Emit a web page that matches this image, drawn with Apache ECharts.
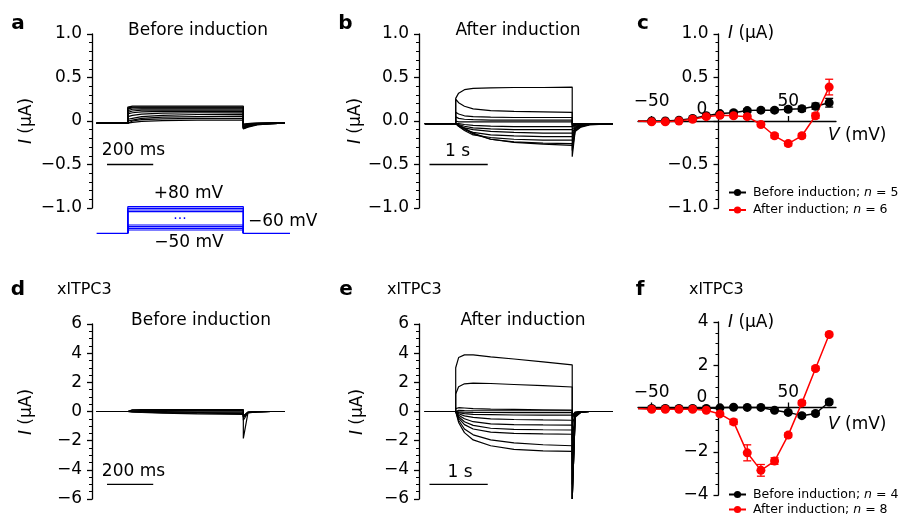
<!DOCTYPE html>
<html>
<head>
<meta charset="utf-8">
<script src="https://cdn.jsdelivr.net/npm/echarts@6/dist/echarts.min.js"></script>
<style>html,body{margin:0;background:#fff}#chart{width:898px;height:519px}</style>
</head>
<body>
<div id="chart"></div>
<script>
// ---- data ----
// time base for panels a and d (ms, pulse 0..500)
var timeA = [-135, 0, 0, 20, 60, 150, 300, 500, 500, 520, 560, 620, 680];
var tracesA = [
  [-0.025,-0.025,0.16,0.17,0.17,0.17,0.17,0.17,-0.09,-0.07,-0.045,-0.03,-0.025],
  [-0.025,-0.025,0.15,0.16,0.16,0.16,0.16,0.16,-0.09,-0.065,-0.04,-0.03,-0.025],
  [-0.025,-0.025,0.14,0.15,0.15,0.15,0.15,0.15,-0.085,-0.06,-0.04,-0.03,-0.025],
  [-0.025,-0.025,0.12,0.135,0.14,0.14,0.14,0.14,-0.08,-0.055,-0.035,-0.03,-0.025],
  [-0.025,-0.025,0.1,0.115,0.125,0.125,0.125,0.125,-0.08,-0.05,-0.035,-0.03,-0.025],
  [-0.025,-0.025,0.08,0.095,0.105,0.11,0.11,0.11,-0.075,-0.05,-0.03,-0.025,-0.025],
  [-0.025,-0.025,0.05,0.065,0.08,0.09,0.095,0.095,-0.07,-0.045,-0.03,-0.025,-0.025],
  [-0.025,-0.025,0.02,0.03,0.05,0.065,0.075,0.08,-0.06,-0.04,-0.03,-0.025,-0.025],
  [-0.025,-0.025,0.0,0.01,0.03,0.045,0.05,0.055,-0.05,-0.035,-0.03,-0.025,-0.025],
  [-0.025,-0.025,-0.01,0.0,0.015,0.025,0.03,0.03,-0.04,-0.03,-0.025,-0.025,-0.025],
  [-0.025,-0.025,-0.02,-0.015,-0.005,0.005,0.01,0.01,-0.035,-0.03,-0.025,-0.025,-0.025]
];
var tracesD = [
  [0,0,0.1,0.12,0.13,0.13,0.13,0.13,-1.85,-0.1,-0.02,0,0],
  [0,0,0.07,0.09,0.1,0.1,0.1,0.1,-0.6,-0.08,-0.02,0,0],
  [0,0,0.03,0.05,0.06,0.06,0.06,0.06,-0.4,-0.06,-0.01,0,0],
  [0,0,0,0,0,-0.01,-0.02,-0.03,-0.3,-0.05,-0.01,0,0],
  [0,0,0,-0.01,-0.03,-0.05,-0.07,-0.09,-0.3,-0.05,-0.01,0,0],
  [0,0,0,-0.02,-0.05,-0.08,-0.12,-0.15,-0.35,-0.05,-0.01,0,0],
  [0,0,0,-0.03,-0.07,-0.11,-0.16,-0.2,-0.4,-0.06,-0.01,0,0]
];
// time base for panels b and e (s, pulse 0..2)
var timeB = [-0.53, 0, 0, 0.05, 0.15, 0.3, 0.6, 1.0, 1.5, 2.0, 2.0, 2.05, 2.15, 2.3, 2.7];
var tracesB = [
  [-0.03,-0.03,0.26,0.32,0.36,0.375,0.38,0.385,0.385,0.39,-0.03,-0.03,-0.03,-0.03,-0.03],
  [-0.03,-0.03,0.25,0.21,0.17,0.14,0.12,0.11,0.105,0.1,-0.04,-0.035,-0.03,-0.03,-0.03],
  [-0.03,-0.03,0.1,0.08,0.06,0.05,0.045,0.04,0.04,0.04,-0.05,-0.04,-0.035,-0.03,-0.03],
  [-0.03,-0.03,0.05,0.03,0.02,0.015,0.01,0.01,0.01,0.01,-0.06,-0.045,-0.035,-0.03,-0.03],
  [-0.03,-0.03,0,-0.01,-0.01,-0.01,-0.01,-0.01,-0.01,-0.01,-0.07,-0.05,-0.04,-0.03,-0.03],
  [-0.03,-0.03,-0.02,-0.03,-0.04,-0.05,-0.06,-0.065,-0.065,-0.065,-0.1,-0.06,-0.045,-0.035,-0.03],
  [-0.03,-0.03,-0.02,-0.04,-0.06,-0.08,-0.09,-0.1,-0.1,-0.1,-0.14,-0.07,-0.05,-0.035,-0.03],
  [-0.03,-0.03,-0.02,-0.05,-0.08,-0.1,-0.12,-0.13,-0.14,-0.14,-0.18,-0.08,-0.05,-0.04,-0.03],
  [-0.03,-0.03,-0.03,-0.06,-0.1,-0.13,-0.16,-0.17,-0.18,-0.18,-0.22,-0.09,-0.055,-0.04,-0.03],
  [-0.03,-0.03,-0.03,-0.06,-0.11,-0.16,-0.19,-0.21,-0.22,-0.22,-0.28,-0.1,-0.06,-0.04,-0.03],
  [-0.03,-0.03,-0.03,-0.05,-0.09,-0.15,-0.21,-0.24,-0.255,-0.26,-0.34,-0.11,-0.065,-0.04,-0.03],
  [-0.03,-0.03,-0.03,-0.05,-0.08,-0.14,-0.21,-0.245,-0.265,-0.28,-0.41,-0.12,-0.07,-0.045,-0.03]
];
var tracesE = [
  [0,0,3.0,3.7,3.88,3.88,3.75,3.6,3.4,3.2,-0.3,-0.05,0,0,0],
  [0,0,1.2,1.7,1.9,1.95,1.92,1.85,1.77,1.68,-0.3,-0.05,0,0,0],
  [0,0,0.2,0.26,0.24,0.2,0.16,0.14,0.12,0.1,-0.5,-0.05,0,0,0],
  [0,0,0.1,0.08,0.06,0.05,0.05,0.05,0.05,0.05,-1,-0.1,0,0,0],
  [0,0,0,-0.03,-0.05,-0.06,-0.07,-0.08,-0.08,-0.08,-2,-0.1,-0.02,0,0],
  [0,0,0,-0.08,-0.15,-0.2,-0.22,-0.24,-0.25,-0.25,-3,-0.15,-0.02,0,0],
  [0,0,0,-0.15,-0.3,-0.4,-0.5,-0.55,-0.58,-0.6,-4,-0.2,-0.03,0,0],
  [0,0,0,-0.25,-0.5,-0.7,-0.85,-0.9,-0.92,-0.93,-5,-0.25,-0.03,0,0],
  [0,0,0,-0.35,-0.7,-0.95,-1.15,-1.22,-1.25,-1.27,-6,-0.3,-0.04,0,0],
  [0,0,0,-0.45,-0.9,-1.2,-1.42,-1.5,-1.54,-1.56,-6,-0.3,-0.04,0,0],
  [0,0,0,-0.6,-1.2,-1.6,-1.95,-2.15,-2.28,-2.35,-6,-0.35,-0.05,0,0],
  [0,0,0,-0.75,-1.45,-1.95,-2.35,-2.6,-2.7,-2.74,-6,-0.4,-0.05,0,0]
];
// voltage protocol (schematic rows, baseline = 0)
var protocolSteps = [16, 15, 14, 13, 5, 4, 3, 2];
// scale bars
var scaleBarMs = [-90, 110];
var scaleBarS = [-0.45, 0.55];

// I-V data
var voltages = [-60, -50, -40, -30, -20, -10, 0, 10, 20, 30, 40, 50, 60, 70, 80];
var cBefore = [0, 0, 0, 0.01, 0.03, 0.06, 0.085, 0.095, 0.12, 0.125, 0.125, 0.135, 0.14, 0.17, 0.21];
var cBeforeErr = [0, 0.01, 0.01, 0.01, 0.01, 0.015, 0.015, 0.02, 0.02, 0.02, 0.02, 0.025, 0.03, 0.035, 0.05];
var cAfter = [0, -0.01, -0.01, 0, 0.02, 0.05, 0.065, 0.06, 0.05, -0.04, -0.17, -0.26, -0.17, 0.06, 0.39];
var cAfterErr = [0, 0.015, 0.015, 0.015, 0.015, 0.02, 0.02, 0.02, 0.02, 0.02, 0.025, 0.025, 0.025, 0.03, 0.09];
var fBefore = [0, 0, 0, 0, 0, 0, 0.03, 0.06, 0.05, 0.05, -0.08, -0.18, -0.33, -0.23, 0.3];
var fBeforeErr = [0, 0.05, 0.05, 0.05, 0.05, 0.05, 0.05, 0.05, 0.05, 0.05, 0.05, 0.06, 0.08, 0.08, 0.1];
var fAfter = [0, -0.04, -0.04, -0.04, -0.04, -0.08, -0.25, -0.62, -2.05, -2.86, -2.43, -1.23, 0.26, 1.85, 3.42];
var fAfterErr = [0, 0.05, 0.05, 0.05, 0.05, 0.06, 0.08, 0.12, 0.37, 0.27, 0.15, 0.1, 0.1, 0.08, 0.08];

var FONT = 'DejaVu Sans';
var RED = '#ff0000';
var BLUE = '#0000ff';

function minus(s) { return String(s).replace('-', '\u2212'); }

var chart = echarts.init(document.getElementById('chart'));

// grids: 0 a, 1 b, 2 c, 3 d, 4 e, 5 f, 6 protocol
var grids = [
  {left: 92, top: 34, width: 198, height: 174},
  {left: 419, top: 34, width: 194, height: 174},
  {left: 638, top: 34, width: 198, height: 174},
  {left: 92, top: 324, width: 198, height: 175},
  {left: 419, top: 324, width: 194, height: 175},
  {left: 638, top: 322, width: 198, height: 173},
  {left: 92, top: 200, width: 198, height: 40}
];

function hiddenX(gi, min, max) {
  return {type: 'value', gridIndex: gi, min: min, max: max, show: false};
}
function hiddenY(gi, min, max) {
  return {type: 'value', gridIndex: gi, min: min, max: max, show: false};
}
function currentAxis(gi, min, max, interval, minorSplit, fmt, offset) {
  return {
    type: 'value', gridIndex: gi, min: min, max: max, interval: interval, offset: offset || 0,
    axisLine: {show: true, onZero: false, lineStyle: {color: '#000', width: 1.3}},
    axisTick: {show: true, length: 5, lineStyle: {color: '#000', width: 1.3}},
    minorTick: {show: true, splitNumber: minorSplit, length: 3, lineStyle: {color: '#000', width: 1}},
    splitLine: {show: false},
    minorSplitLine: {show: false},
    axisLabel: {color: '#000', fontFamily: FONT, fontSize: 17, margin: 10, formatter: fmt}
  };
}
// voltage axis sits on I = 0; offset lifts it from the grid bottom
function voltAxis(gi, offset, labelMargin) {
  return {
    type: 'value', gridIndex: gi, min: -60, max: 85, offset: offset,
    axisLine: {show: true, onZero: false, lineStyle: {color: '#000', width: 1.3}},
    axisTick: {show: true, inside: true, length: 5, customValues: [-50, 50], lineStyle: {color: '#000', width: 1.3}},
    splitLine: {show: false},
    axisLabel: {inside: true, margin: labelMargin, customValues: [-50, 50], color: '#000',
      fontFamily: FONT, fontSize: 17, formatter: function (v) { return minus(v); }}
  };
}

var xAxes = [
  hiddenX(0, -155, 702),
  hiddenX(1, -0.63, 2.7),
  voltAxis(2, -87, 11),
  hiddenX(3, -155, 702),
  hiddenX(4, -0.63, 2.7),
  voltAxis(5, -87.5, 6),
  hiddenX(6, -155, 702)
];
var yAxes = [
  currentAxis(0, -1, 1, 0.5, 5, function (v) { return v === 0 ? '0' : minus(v.toFixed(1)); }),
  currentAxis(1, -1, 1, 0.5, 5, function (v) { return minus(v.toFixed(1)); }),
  currentAxis(2, -1, 1, 0.5, 5, function (v) { return v === 0 ? '' : minus(v.toFixed(1)); }, -80.5),
  currentAxis(3, -6, 6, 2, 4, function (v) { return minus(v); }),
  currentAxis(4, -6, 6, 2, 4, function (v) { return minus(v); }),
  currentAxis(5, -4, 4, 2, 4, function (v) { return v === 0 ? '' : minus(v); }, -80.5),
  hiddenY(6, -4, 20)
];

var series = [];

function addTraces(times, traces, gi) {
  traces.forEach(function (vals) {
    series.push({
      type: 'line', xAxisIndex: gi, yAxisIndex: gi, symbol: 'none', silent: true,
      data: times.map(function (t, i) { return [t, vals[i]]; }),
      lineStyle: {color: '#000', width: 1.2}
    });
  });
}
addTraces(timeA, tracesA, 0);
addTraces(timeB, tracesB, 1);
addTraces(timeA, tracesD, 3);
addTraces(timeB, tracesE, 4);

// scale bars
[[0, scaleBarMs, -0.5], [1, scaleBarS, -0.5], [3, scaleBarMs, -5], [4, scaleBarS, -5]].forEach(function (s) {
  series.push({
    type: 'line', xAxisIndex: s[0], yAxisIndex: s[0], symbol: 'none', silent: true,
    data: [[s[1][0], s[2]], [s[1][1], s[2]]],
    lineStyle: {color: '#000', width: 1.3}
  });
});

// voltage protocol
series.push({
  type: 'line', xAxisIndex: 6, yAxisIndex: 6, symbol: 'none', silent: true,
  data: [[-135, 0], [0, 0], [null, null], [500, 0], [702, 0]],
  connectNulls: false, lineStyle: {color: BLUE, width: 1.4}
});
protocolSteps.forEach(function (lv) {
  series.push({
    type: 'line', xAxisIndex: 6, yAxisIndex: 6, symbol: 'none', silent: true,
    data: [[0, 0], [0, lv], [500, lv], [500, 0]],
    lineStyle: {color: BLUE, width: 1.2}
  });
});

function errorBars(gi, vals, errs, color) {
  return {
    type: 'custom', xAxisIndex: gi, yAxisIndex: gi, silent: true,
    data: voltages.map(function (v, i) { return [v, vals[i] - errs[i], vals[i] + errs[i]]; }),
    renderItem: function (params, api) {
      if (api.value(1) === api.value(2)) return null;
      var lo = api.coord([api.value(0), api.value(1)]);
      var hi = api.coord([api.value(0), api.value(2)]);
      var st = {stroke: color, lineWidth: 1.3};
      return {type: 'group', children: [
        {type: 'line', shape: {x1: lo[0], y1: lo[1], x2: hi[0], y2: hi[1]}, style: st},
        {type: 'line', shape: {x1: lo[0] - 4, y1: lo[1], x2: lo[0] + 4, y2: lo[1]}, style: st},
        {type: 'line', shape: {x1: hi[0] - 4, y1: hi[1], x2: hi[0] + 4, y2: hi[1]}, style: st}
      ]};
    }
  };
}
function ivLine(gi, name, vals, color) {
  return {
    type: 'line', name: name, xAxisIndex: gi, yAxisIndex: gi,
    symbol: 'circle', showAllSymbol: true,
    symbolSize: function (val, p) { return p.dataIndex === 0 ? 0 : 9; },
    data: voltages.map(function (v, i) { return [v, vals[i]]; }),
    lineStyle: {color: color, width: 1.5}, itemStyle: {color: color}
  };
}
series.push(errorBars(2, cBefore, cBeforeErr, '#000'));
series.push(ivLine(2, 'Before induction; n = 5', cBefore, '#000'));
series.push(errorBars(2, cAfter, cAfterErr, RED));
series.push(ivLine(2, 'After induction; n = 6', cAfter, RED));
series.push(errorBars(5, fBefore, fBeforeErr, '#000'));
series.push(ivLine(5, 'Before induction; n = 4', fBefore, '#000'));
series.push(errorBars(5, fAfter, fAfterErr, RED));
series.push(ivLine(5, 'After induction; n = 8', fAfter, RED));

// one legend per row so nothing wraps at the page edge
function legendAt(top, name) {
  return {
    data: [name], left: 728, top: top, padding: 0,
    itemWidth: 17, itemHeight: 9, itemGap: 0, selectedMode: false,
    formatter: function (n) { return n.replace('n =', '{i|n} ='); },
    textStyle: {fontFamily: FONT, fontSize: 12.5, color: '#000', padding: [0, 0, 0, 2],
      rich: {i: {fontFamily: FONT, fontSize: 12.5, fontStyle: 'italic', color: '#000'}}}
  };
}

function txt(x, y, text, o) {
  o = o || {};
  return {
    type: 'text', x: x, y: y, rotation: o.rot || 0, silent: true,
    style: {
      text: text, fill: o.color || '#000', align: o.align || 'center', verticalAlign: 'middle',
      font: (o.bold ? 'bold ' : '') + (o.size || 17) + 'px "' + FONT + '"',
      rich: {i: {fontStyle: 'italic', fontSize: o.size || 17, fontFamily: FONT, fill: o.color || '#000'}}
    }
  };
}
var IUA = '{i|I} (\u00b5A)';
var VMV = '{i|V} (mV)';
var graphics = [
  txt(18, 24, 'a', {bold: true, size: 20}),
  txt(345.5, 24, 'b', {bold: true, size: 20}),
  txt(643, 24, 'c', {bold: true, size: 20}),
  txt(18, 290, 'd', {bold: true, size: 20}),
  txt(346, 290, 'e', {bold: true, size: 20}),
  txt(640, 290, 'f', {bold: true, size: 20}),
  txt(198, 31, 'Before induction'),
  txt(518, 31, 'After induction'),
  txt(201, 321, 'Before induction'),
  txt(523, 321, 'After induction'),
  txt(57, 290, 'xlTPC3', {align: 'left', size: 16}),
  txt(387, 290, 'xlTPC3', {align: 'left', size: 16}),
  txt(689, 290, 'xlTPC3', {align: 'left', size: 16}),
  txt(27, 121, IUA, {rot: Math.PI / 2}),
  txt(356, 121, IUA, {rot: Math.PI / 2}),
  txt(27, 412, IUA, {rot: Math.PI / 2}),
  txt(358, 412, IUA, {rot: Math.PI / 2}),
  txt(728, 34, IUA, {align: 'left'}),
  txt(728, 323, IUA, {align: 'left'}),
  txt(828, 136, VMV, {align: 'left'}),
  txt(828, 425, VMV, {align: 'left'}),
  txt(702, 110, '0'),
  txt(702, 398, '0'),
  txt(133.5, 151, '200 ms'),
  txt(133.5, 472, '200 ms'),
  txt(457.5, 152, '1 s'),
  txt(460, 473, '1 s'),
  txt(188.5, 194, '+80 mV'),
  txt(189, 242.5, '\u221250 mV'),
  txt(248, 222, '\u221260 mV', {align: 'left'}),
  txt(180, 219, '\u00b7\u00b7\u00b7', {color: BLUE, size: 14})
];

chart.setOption({
  backgroundColor: '#fff',
  animation: false,
  textStyle: {fontFamily: FONT},
  grid: grids,
  xAxis: xAxes,
  yAxis: yAxes,
  legend: [
    legendAt(186, 'Before induction; n = 5'),
    legendAt(203.5, 'After induction; n = 6'),
    legendAt(488, 'Before induction; n = 4'),
    legendAt(503, 'After induction; n = 8')
  ],
  graphic: graphics,
  series: series
});
</script>
</body>
</html>
